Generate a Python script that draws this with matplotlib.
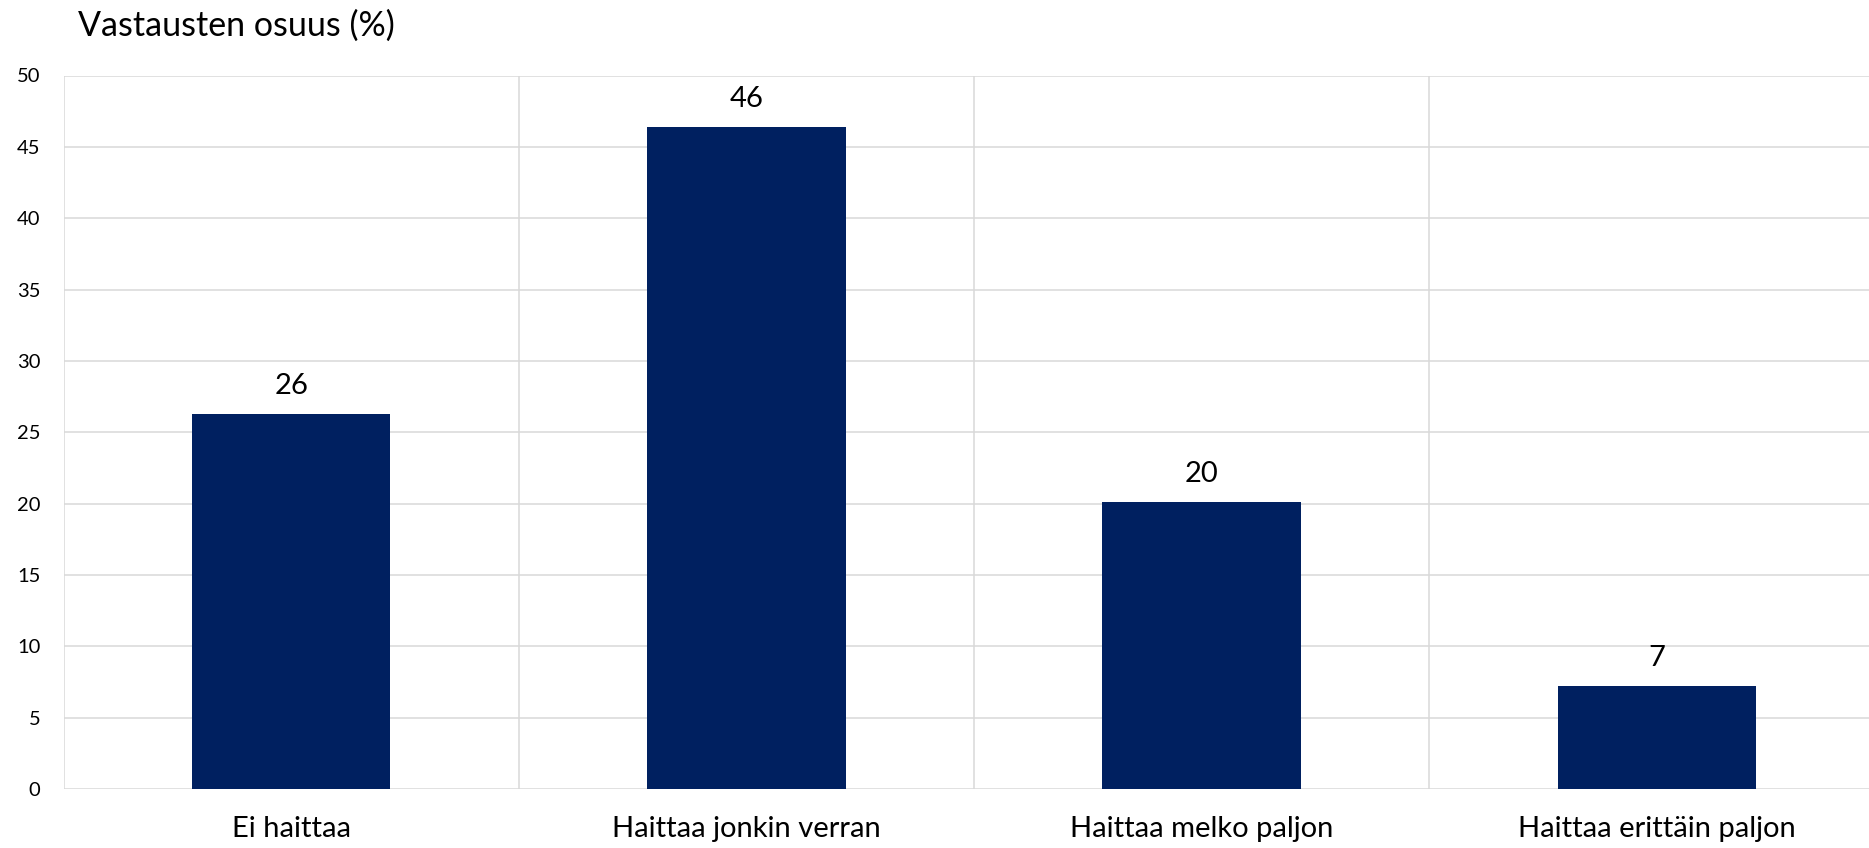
import matplotlib
matplotlib.use("Agg")
import matplotlib.pyplot as plt
from matplotlib.ticker import FixedLocator

categories = ["Ei haittaa", "Haittaa jonkin verran", "Haittaa melko paljon", "Haittaa erittäin paljon"]
values = [26.3, 46.4, 20.1, 7.2]
value_labels = ["26", "46", "20", "7"]
y_ticks = [0, 5, 10, 15, 20, 25, 30, 35, 40, 45, 50]
title = "Vastausten osuus (%)"

plt.rcParams['font.family'] = ['Lato', 'DejaVu Sans']

W, H = 1869, 848
fig = plt.figure(figsize=(W / 100, H / 100), dpi=100)
ax = fig.add_axes([63.5 / W, (H - 789) / H, (1884.5 - 63.5) / W, (789 - 75.5) / H])

x = list(range(len(categories)))
ax.bar(x, values, width=0.436, color="#002060", zorder=3)

for xi, v, lab in zip(x, values, value_labels):
    ax.annotate(lab, (xi, v), xytext=(0, 14.5), textcoords="offset points",
                ha="center", va="baseline", fontsize=21, color="#000000")

ax.set_xlim(-0.5, 3.5)
ax.set_ylim(0, 50)
ax.set_yticks(y_ticks)
ax.set_xticks(x)
ax.set_xticklabels(categories, fontsize=21, color="#000000")
ax.xaxis.set_minor_locator(FixedLocator([-0.5, 0.5, 1.5, 2.5, 3.5]))
ax.tick_params(axis="y", length=0, pad=16.5, labelsize=14.5, labelcolor="#000000")
ax.tick_params(axis="x", which="both", length=0, pad=19.5)
ax.grid(axis="y", color="#D9D9D9", linewidth=1.1, zorder=0)
ax.grid(axis="x", which="minor", color="#D9D9D9", linewidth=1.1, zorder=0)
ax.grid(axis="x", which="major", visible=False)
for s in ax.spines.values():
    s.set_visible(False)
ax.set_axisbelow(True)

fig.text(78 / W, (H - 36) / H, title, fontsize=24.5, ha="left", va="baseline", color="#000000")

fig.savefig("out.png", dpi=100, facecolor="white")
